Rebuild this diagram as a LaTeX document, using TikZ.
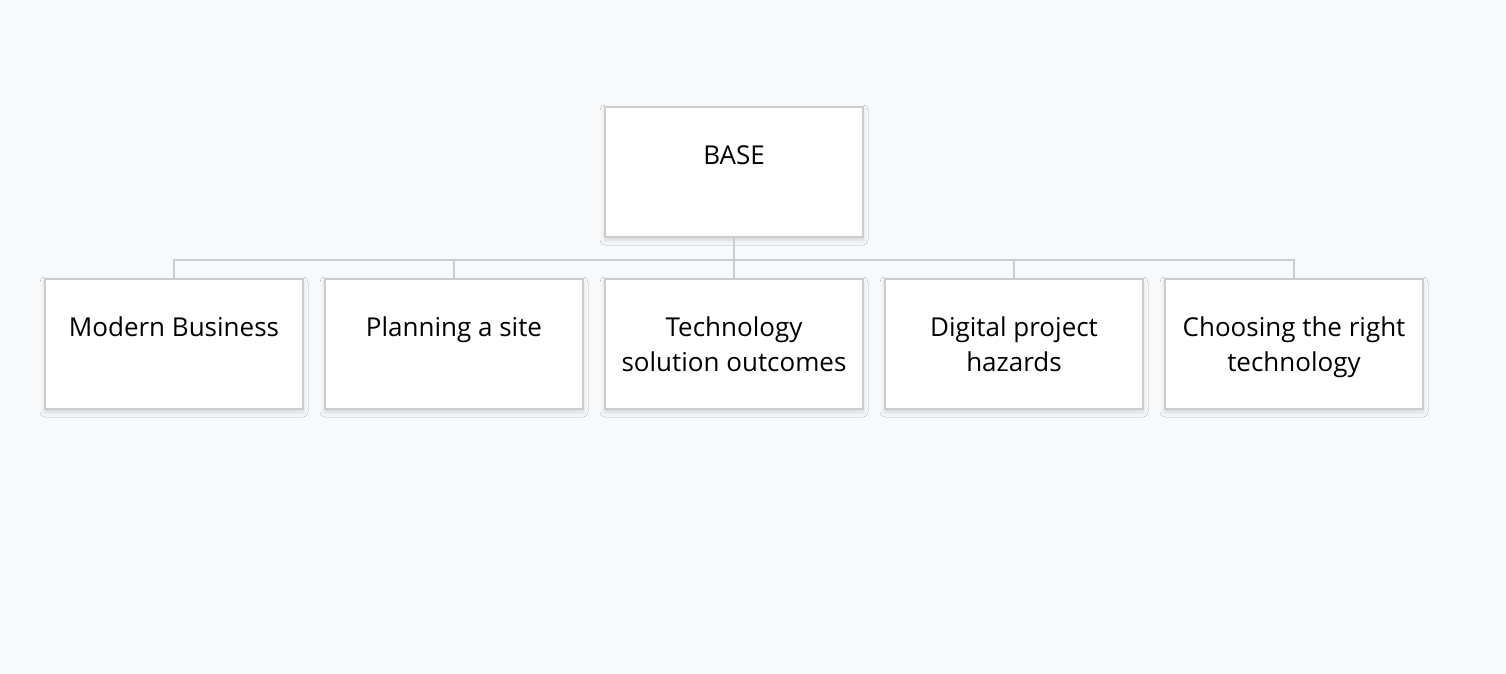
\documentclass[tikz,border=0pt]{standalone}
\usepackage{fontspec}
\setmainfont{Open Sans}
\usetikzlibrary{shadows.blur}
\definecolor{pagebg}{HTML}{F8F9FB}
\definecolor{boxline}{HTML}{CBCCCE}
\newcommand{\captext}[1]{\begin{tabular}[t]{@{}c@{}}#1\end{tabular}}
\begin{document}
\begin{tikzpicture}[x=0.5pt,y=-0.5pt]

\tikzset{topic/.style={rectangle,minimum width=129pt,minimum height=65pt,inner sep=0pt,draw=boxline,line width=1pt,fill=white,blur shadow={shadow xshift=0pt,shadow yshift=-1.5pt,shadow blur radius=2.5pt,shadow opacity=15}},}
\tikzset{caption/.style={anchor=base,inner sep=0pt,font=\fontsize{13}{17.5}\selectfont},}
\tikzset{link/.style={draw=boxline,line width=1pt},}

%BACKGROUND
\fill[pagebg] (0,0) rectangle (1506,674);
\useasboundingbox (0,0) rectangle (1506,674);

%BOXES
\draw (734,172) node [topic] (base) {};
\draw (174,344) node [topic] (modern) {};
\draw (454,344) node [topic] (planning) {};
\draw (734,344) node [topic] (techsol) {};
\draw (1014,344) node [topic] (hazards) {};
\draw (1294,344) node [topic] (choosing) {};

%TEXTS
\node[caption] (tbase) at ([yshift=-29pt]base.north) {\captext{BASE}};
\node[caption] (tmodern) at ([yshift=-29pt]modern.north) {\captext{Modern Business}};
\node[caption] (tplanning) at ([yshift=-29pt]planning.north) {\captext{Planning a site}};
\node[caption] (ttechsol) at ([yshift=-29pt]techsol.north) {\captext{Technology\\solution outcomes}};
\node[caption] (thazards) at ([yshift=-29pt]hazards.north) {\captext{Digital project\\hazards}};
\node[caption] (tchoosing) at ([yshift=-29pt]choosing.north) {\captext{Choosing the right\\technology}};

%LINKS
\foreach \child in {modern,planning,techsol,hazards,choosing}
  \draw[link] (base.south) -- ++(0,22) -| (\child.north);

\end{tikzpicture}
\end{document}
